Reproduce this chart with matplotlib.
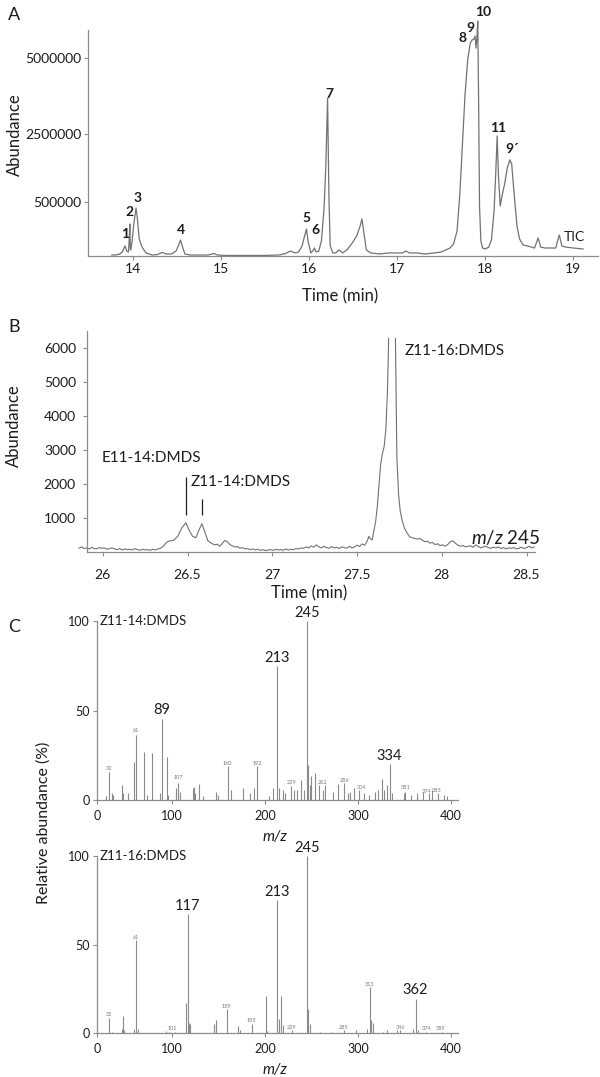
import matplotlib
import numpy as np
from matplotlib.patches import Rectangle

matplotlib.use("Agg")
import matplotlib.pyplot as plt

plt.rcParams["font.family"] = ["Lato", "DejaVu Sans"]
plt.rcParams["mathtext.fontset"] = "custom"
plt.rcParams["mathtext.rm"] = "Lato"
plt.rcParams["mathtext.it"] = "Lato:italic"

# ---- panel A: total ion chromatogram ----
tic_time = [13.76, 13.80, 13.85, 13.88, 13.91, 13.93, 13.95, 13.96, 13.965, 13.97, 13.975,
            13.99, 14.01, 14.035, 14.05, 14.07, 14.09, 14.11, 14.15, 14.22, 14.28, 14.33,
            14.38, 14.44, 14.49, 14.52, 14.54, 14.56, 14.59, 14.65, 14.74, 14.85, 14.92,
            14.96, 15.05, 15.20, 15.35, 15.50, 15.65, 15.72, 15.79, 15.84, 15.88, 15.92,
            15.95, 15.97, 15.99, 16.02, 16.05, 16.06, 16.08, 16.11, 16.14, 16.17, 16.19,
            16.21, 16.225, 16.24, 16.27, 16.30, 16.34, 16.38, 16.43, 16.49, 16.54, 16.58,
            16.60, 16.62, 16.65, 16.70, 16.80, 16.90, 17.00, 17.06, 17.10, 17.14, 17.22,
            17.32, 17.42, 17.50, 17.55, 17.60, 17.64, 17.68, 17.71, 17.74, 17.77, 17.80,
            17.83, 17.85, 17.87, 17.885, 17.895, 17.905, 17.915, 17.925, 17.935, 17.95,
            17.97, 18.00, 18.04, 18.07, 18.10, 18.12, 18.135, 18.15, 18.17, 18.19, 18.22,
            18.25, 18.28, 18.30, 18.33, 18.36, 18.39, 18.43, 18.48, 18.52, 18.56, 18.60,
            18.63, 18.68, 18.74, 18.80, 18.84, 18.87, 18.91, 19.00, 19.11]
tic_abund = [9000, 9000, 18000, 37000, 93000, 46000, 37000, 185000, 296000, 74000, 56000,
             130000, 296000, 444000, 352000, 167000, 111000, 74000, 28000, 9000, 14000, 32000,
             19000, 19000, 46000, 102000, 148000, 93000, 19000, 9000, 9000, 9000, 23000,
             9000, 5000, 5000, 5000, 5000, 9000, 19000, 46000, 28000, 37000, 93000,
             185000, 250000, 130000, 28000, 56000, 74000, 37000, 46000, 139000, 444000, 1560000,
             3670000, 676000, 93000, 28000, 28000, 56000, 28000, 56000, 120000, 185000, 278000,
             343000, 231000, 56000, 28000, 19000, 28000, 28000, 28000, 46000, 28000, 28000,
             19000, 28000, 37000, 56000, 74000, 111000, 231000, 676000, 2150000, 3770000, 4930000,
             5500000, 5600000, 5630000, 5730000, 5330000, 5670000, 6230000, 3430000, 463000, 139000,
             74000, 65000, 83000, 148000, 417000, 1410000, 2440000, 1260000, 463000, 676000, 1030000,
             1500000, 1740000, 1620000, 676000, 278000, 157000, 102000, 93000, 83000, 74000, 167000,
             83000, 74000, 74000, 74000, 194000, 93000, 83000, 74000, 65000]
tic_yticks = [500000, 2500000, 5000000]
tic_xticks = [14, 15, 16, 17, 18, 19]
peak_names = ["1", "2", "3", "4", "5", "6", "7", "8", "9", "10", "11", "9\u00b4", "TIC"]
peak_name_time = [13.91, 13.965, 14.05, 14.55, 15.97, 16.07, 16.23, 17.74, 17.83, 17.98,
                  18.15, 18.31, 19.01]
peak_name_abund = [200000, 410000, 610000, 243000, 352000, 243000, 3830000, 5660000, 5990000,
                   6530000, 2700000, 2050000, 176000]

# ---- panel B: m/z 245 extracted ion chromatogram ----
eic_time = [25.860, 25.875, 25.890, 25.905, 25.920, 25.935, 25.950, 25.965, 25.980, 25.995,
            26.010, 26.025, 26.040, 26.055, 26.070, 26.085, 26.100, 26.115, 26.130, 26.145,
            26.160, 26.175, 26.190, 26.205, 26.220, 26.235, 26.250, 26.265, 26.280, 26.295,
            26.310, 26.325, 26.340,
            26.355, 26.38, 26.40, 26.42, 26.445, 26.465, 26.49, 26.51, 26.53, 26.55, 26.565,
            26.585, 26.60, 26.62, 26.64, 26.66, 26.675, 26.69, 26.705, 26.72, 26.735, 26.75,
            26.765, 26.780, 26.795, 26.810, 26.825, 26.840, 26.855, 26.870, 26.885, 26.900,
            26.915, 26.930, 26.945, 26.960, 26.975, 26.990, 27.005, 27.020, 27.035, 27.050,
            27.065, 27.080, 27.095, 27.110, 27.125, 27.140, 27.155, 27.170, 27.185, 27.200,
            27.215, 27.230, 27.245, 27.260, 27.275, 27.290, 27.305, 27.320, 27.335, 27.350,
            27.365, 27.380, 27.395, 27.410, 27.425, 27.440, 27.455, 27.470, 27.485, 27.500,
            27.515, 27.530, 27.545,
            27.56, 27.57, 27.58, 27.59, 27.60, 27.61, 27.62, 27.63, 27.64, 27.65, 27.66,
            27.67, 27.68, 27.69, 27.71, 27.725, 27.735, 27.745, 27.755, 27.765, 27.78, 27.795,
            27.810, 27.825, 27.840, 27.855, 27.870, 27.885, 27.900, 27.915, 27.930, 27.945,
            27.960, 27.975, 27.990, 28.005, 28.020, 28.035, 28.050, 28.065, 28.080, 28.095,
            28.110, 28.125, 28.140, 28.155, 28.170, 28.185, 28.200, 28.215, 28.230, 28.245,
            28.260, 28.275, 28.290, 28.305, 28.320, 28.335, 28.350, 28.365, 28.380, 28.395,
            28.410, 28.425, 28.440, 28.455, 28.470, 28.485, 28.500, 28.515, 28.530, 28.545]
eic_abund = [110, 150, 100, 120, 90, 140, 100, 95, 130, 110,
             120, 80, 100, 120, 90, 70, 100, 60, 90, 70,
             80, 60, 100, 70, 50, 80, 60, 70, 50, 80,
             60, 90, 110,
             160, 300, 330, 350, 480, 700, 860, 640, 460, 420, 620,
             830, 620, 330, 260, 210, 230, 170, 250, 340, 300, 220,
             180, 150, 160, 110, 130, 90, 100, 70, 90, 60,
             80, 50, 70, 40, 60, 70, 50, 80, 60, 70,
             50, 90, 60, 80, 70, 100, 90, 120, 110, 150,
             120, 180, 140, 210, 150, 120, 170, 130, 110, 160,
             120, 140, 100, 150, 130, 110, 170, 120, 150, 200,
             160, 240, 200,
             320, 460, 380, 360, 640, 900, 1350, 2000, 2600, 2900, 3100,
             3600, 4800, 7000, 9500, 7000, 2800, 1700, 1200, 950, 700, 560,
             450, 420, 400, 380, 400, 350, 300, 320, 260, 280,
             220, 240, 190, 210, 170, 220, 300, 330, 260, 200,
             170, 190, 150, 170, 180, 140, 210, 160, 120, 150,
             170, 130, 110, 140, 120, 150, 100, 130, 90, 120,
             110, 130, 90, 110, 140, 100, 130, 170, 120, 150]
eic_yticks = [1000, 2000, 3000, 4000, 5000, 6000]
eic_xticks = [26, 26.5, 27, 27.5, 28, 28.5]

# ---- panel C: mass spectra ----
z14_mz = [28, 32, 35, 37, 46, 47, 53, 59, 61, 70, 73, 79, 87, 89, 95, 96, 104, 105, 107, 109,
          123, 124, 125, 129, 133, 147, 150, 160, 164, 176, 184, 188, 192, 204, 209, 213, 215,
          219, 222, 228, 231, 235, 239, 242, 245, 246, 248, 250, 254, 258, 262, 265, 273, 279,
          285, 289, 292, 296, 301, 306, 312, 318, 322, 326, 328, 331, 334, 337, 349, 351, 357,
          363, 370, 376, 380, 386, 392, 396]
z14_int = [2, 15.9, 3.7, 2.8, 8.4, 3.7, 3.7, 21, 36.4, 27, 2.8, 26, 3.7, 45.3, 24.3, 3, 3.7, 6.5,
           9.3, 4.7, 6.5, 7.5, 3.7, 9, 2, 4.7, 2.8, 19, 5.6, 6.5, 3.7, 6.5, 19, 2.2, 6.5, 74.6,
           6.5, 5.6, 3.7, 8, 5.6, 5.6, 11, 5.6, 100, 19.6, 8.4, 13.4, 15, 8.4, 5.6, 8.4, 4.7, 9,
           9.3, 3.7, 4.7, 6.5, 5.6, 3.7, 2.8, 4.7, 5.6, 12, 5.6, 8.4, 20, 3.7, 3.7, 4.7, 2.8,
           3.7, 4.7, 3.7, 5.6, 3.7, 2.8, 2]
z14_major = [89, 213, 245, 334]
z14_minor = [32, 61, 107, 160, 192, 229, 262, 286, 304, 351, 374, 385]
z14_minor_y = [17.5, 39, 12.5, 20.5, 20.5, 10, 10, 11, 7, 7, 5, 5.5]

z16_mz = [32, 35, 46, 47, 48, 59, 61, 63, 94, 97, 103, 115, 117, 119, 120, 145, 147, 148, 159,
          171, 173, 186, 201, 202, 213, 215, 217, 219, 229, 245, 246, 249, 259, 271, 285, 298,
          310, 313, 314, 316, 327, 331, 342, 345, 359, 362, 364, 373, 390]
z16_int = [8.7, 0.6, 2.5, 9.5, 1.9, 2.5, 52.5, 2.5, 1.1, 0.4, 0.8, 17, 67.2, 5.7, 5.3, 4.9, 5.7,
           7.2, 13.4, 4.2, 1.5, 5.3, 20.8, 1.1, 75, 8, 20.8, 4.3, 1.9, 100, 13.8, 4.9, 0.6, 0.6,
           1.5, 1.5, 2.3, 26, 7.2, 5.7, 0.8, 1.5, 1.9, 1.5, 2.5, 19.4, 1.9, 0.8, 0.6]
z16_major = [117, 213, 245, 362]
z16_minor = [32, 61, 101, 159, 185, 229, 285, 313, 346, 374, 389]
z16_minor_y = [10.5, 54, 2.6, 15, 6.8, 3.3, 3.3, 27.5, 3.3, 2.6, 2.6]
ms_xticks = [0, 100, 200, 300, 400]
ms_yticks = [0, 50, 100]

W, H = 600, 1077
LINE = "#727272"
AXIS = "#8c8c8c"
INK = "#1c1c1c"


def px_axes(fig, left, right, top, bottom):
    return fig.add_axes([left / W, 1 - bottom / H, (right - left) / W, (bottom - top) / H])


def interp_funcs(data_knots, px_knots):
    return (lambda v: np.interp(v, data_knots, px_knots),
            lambda p: np.interp(p, px_knots, data_knots))


def style(ax, size, xpad, ypad):
    for side in ("top", "right"):
        ax.spines[side].set_visible(False)
    for side in ("left", "bottom"):
        ax.spines[side].set_color(AXIS)
        ax.spines[side].set_linewidth(0.9)
    ax.patch.set_visible(False)
    ax.tick_params(colors=AXIS, labelcolor=INK, labelsize=size, length=3, width=0.8)
    ax.tick_params(axis="x", pad=xpad)
    ax.tick_params(axis="y", pad=ypad)


fig = plt.figure(figsize=(W / 100, H / 100), dpi=100)

# panel A
ax_a = px_axes(fig, 88, 598, 10, 256)
ax_a.set_yscale("function", functions=interp_funcs([0, 5e5, 2.5e6, 5e6, 8e6],
                                                    [0, 54, 122, 198, 288]))
ax_a.plot(tic_time, tic_abund, color=LINE, lw=0.9)
ax_a.set_xlim(13.49, 19.28)
ax_a.set_ylim(0, 6.6e6)
ax_a.spines["left"].set_bounds(0, 5.93e6)
ax_a.set_xticks(tic_xticks, labels=[str(t) for t in tic_xticks])
ax_a.set_yticks(tic_yticks, labels=[str(t) for t in tic_yticks])
style(ax_a, 10, 2, 2)
for name, t, v in zip(peak_names, peak_name_time, peak_name_abund):
    ax_a.text(t, v, name, ha="center", va="center", fontsize=10, color=INK,
              fontweight="bold" if name != "TIC" else "normal")

# panel B
ax_b = px_axes(fig, 87, 535, 331, 552)
eic_line, = ax_b.plot(eic_time, eic_abund, color=LINE, lw=0.8)
eic_line.set_clip_path(Rectangle((25.8, -100), 3, 6400, transform=ax_b.transData))
ax_b.set_xlim(25.907, 28.55)
ax_b.set_ylim(0, 6500)
ax_b.set_xticks(eic_xticks, labels=[f"{t:g}" for t in eic_xticks])
ax_b.set_yticks(eic_yticks, labels=[str(t) for t in eic_yticks])
style(ax_b, 10, 9, 5)
ax_b.vlines([26.49, 26.585], [1080, 1080], [2200, 1550], color=INK, lw=0.9)
ax_b.text(25.996, 2765, "E11-14:DMDS", va="center", fontsize=11, color=INK)
ax_b.text(26.516, 2060, "Z11-14:DMDS", va="center", fontsize=11, color=INK)
ax_b.text(27.78, 5910, "Z11-16:DMDS", va="center", fontsize=11, color=INK)
ax_b.text(28.175, 440, "$m/z$ 245", va="center", fontsize=13.5, color=INK)

# panel C
ms_panels = [
    (621, 800, "Z11-14:DMDS", z14_mz, z14_int, z14_major, z14_minor, z14_minor_y),
    (856, 1033, "Z11-16:DMDS", z16_mz, z16_int, z16_major, z16_minor, z16_minor_y),
]
for top, bottom, title, mz, inten, major, minor, minor_y in ms_panels:
    ax = px_axes(fig, 97, 458, top, bottom)
    ax.set_xscale("function", functions=interp_funcs([0, 30, 100, 400, 500],
                                                      [0, 10, 75, 355, 448.3]))
    ax.vlines(mz, 0, inten, color="#8a8a8a", lw=0.8)
    ax.set_xlim(0, 407.5)
    ax.set_ylim(0, 100)
    ax.set_xticks(ms_xticks, labels=[str(t) for t in ms_xticks])
    ax.set_yticks(ms_yticks, labels=[str(t) for t in ms_yticks])
    style(ax, 9, 4, 2)
    lookup = dict(zip(mz, inten))
    for m in major:
        ax.text(m, lookup[m] + 0.8, str(m), ha="center", va="bottom", fontsize=10.5, color=INK)
    for m, y in zip(minor, minor_y):
        ax.text(m, y, str(m), ha="center", va="center", fontsize=4, color="#777777")
    ax.text(8, 100, title, va="center", fontsize=9.5, color=INK)
    fig.text(275 / W, 1 - (bottom + 37) / H, "m/z", ha="center", va="center",
             fontsize=11, style="italic", color=INK)

# figure-level labels
fig.text(8 / W, 1 - 15 / H, "A", va="center", fontsize=13, color=INK)
fig.text(8 / W, 1 - 327 / H, "B", va="center", fontsize=13, color=INK)
fig.text(8 / W, 1 - 627 / H, "C", va="center", fontsize=13, color=INK)
fig.text(15 / W, 1 - 135 / H, "Abundance", rotation=90, ha="center", va="center",
         fontsize=12, color=INK)
fig.text(14 / W, 1 - 426 / H, "Abundance", rotation=90, ha="center", va="center",
         fontsize=12, color=INK)
fig.text(340 / W, 1 - 296 / H, "Time (min)", ha="center", va="center", fontsize=12, color=INK)
fig.text(309 / W, 1 - 593 / H, "Time (min)", ha="center", va="center", fontsize=12, color=INK)
fig.text(44 / W, 1 - 823 / H, "Relative abundance (%)", rotation=90, ha="center",
         va="center", fontsize=11.5, color=INK)

fig.savefig("out.png", dpi=100)
